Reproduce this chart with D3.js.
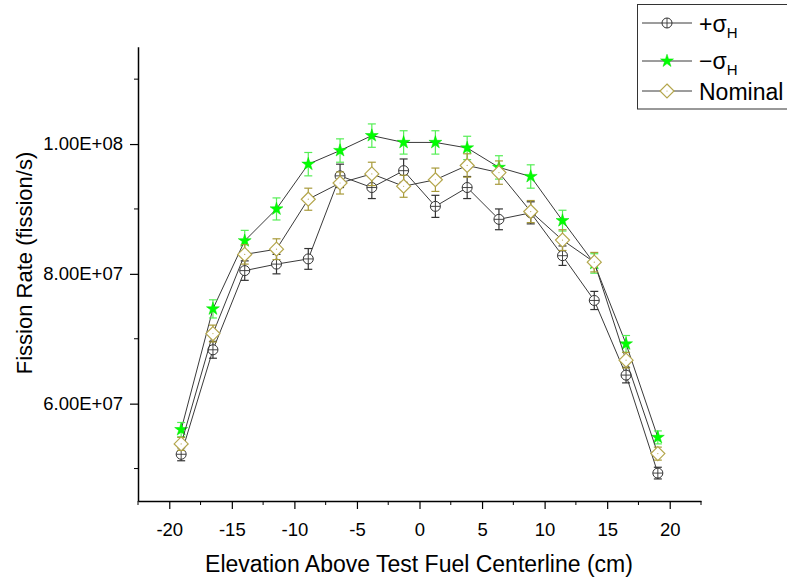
<!DOCTYPE html>
<html>
<head>
<meta charset="utf-8">
<script src="https://cdn.jsdelivr.net/npm/d3@7"></script>
<style>
  html, body { margin: 0; padding: 0; background: #fff; }
  svg { display: block; font-family: "Liberation Sans", Arial, sans-serif; }
</style>
</head>
<body>
<svg id="chart" width="787" height="579"></svg>
<script>
// Elevations of the measurement positions (cm)
const elevations = [-19.05, -16.51, -13.97, -11.43, -8.89, -6.35, -3.81, -1.27,
                    1.27, 3.81, 6.35, 8.89, 11.43, 13.97, 16.51, 19.05];

// Fission rates (fission/s) for each case
const plusSigma = [5.22e7, 6.83e7, 8.05e7, 8.15e7, 8.23e7, 9.51e7, 9.33e7, 9.59e7,
                   9.04e7, 9.33e7, 8.84e7, 8.94e7, 8.28e7, 7.59e7, 6.44e7, 4.93e7];
const minusSigma = [5.60e7, 7.46e7, 8.51e7, 9.00e7, 9.69e7, 9.90e7, 1.013e8, 1.0025e8,
                    1.0025e8, 9.94e7, 9.64e7, 9.50e7, 8.82e7, 8.16e7, 6.92e7, 5.48e7];
const nominal = [5.38e7, 7.08e7, 8.30e7, 8.38e7, 9.15e7, 9.40e7, 9.54e7, 9.35e7,
                 9.45e7, 9.67e7, 9.56e7, 8.96e7, 8.52e7, 8.18e7, 6.67e7, 5.23e7];

// One-sigma uncertainties (fission/s)
const plusSigmaErr = [1.0e6, 1.3e6, 1.5e6, 1.5e6, 1.6e6, 1.8e6, 1.7e6, 1.8e6,
                      1.7e6, 1.7e6, 1.6e6, 1.7e6, 1.5e6, 1.4e6, 1.2e6, 0.9e6];
const minusSigmaErr = [1.1e6, 1.4e6, 1.6e6, 1.7e6, 1.8e6, 1.8e6, 1.8e6, 1.8e6,
                       1.8e6, 1.8e6, 1.8e6, 1.8e6, 1.6e6, 1.5e6, 1.3e6, 1.0e6];
const nominalErr = [1.0e6, 1.3e6, 1.5e6, 1.6e6, 1.7e6, 1.7e6, 1.8e6, 1.7e6,
                    1.8e6, 1.8e6, 1.8e6, 1.7e6, 1.6e6, 1.5e6, 1.2e6, 1.0e6];

// Axis ticks
const xMajorTicks = [-20, -15, -10, -5, 0, 5, 10, 15, 20];
const xMinorTicks = [-22.5, -17.5, -12.5, -7.5, -2.5, 2.5, 7.5, 12.5, 17.5, 22.5];
const yMajorTicks = [6e7, 8e7, 1e8];
const yMinorTicks = [5e7, 7e7, 9e7, 1.1e8];

const svg = d3.select("#chart");

const x = d3.scaleLinear().domain([-22.5, 22.5]).range([138, 701]);
const y = d3.scaleLinear().domain([4.5e7, 1.15e8]).range([501, 46.7]);

const fmtSci = d => {
  const e = Math.floor(Math.log10(d) + 1e-9);
  const m = d / Math.pow(10, e);
  return m.toFixed(2) + "E+" + String(e).padStart(2, "0");
};

// Axes
const xAxis = svg.append("g").attr("transform", `translate(0,${y.range()[0]})`)
  .call(d3.axisBottom(x).tickValues(xMajorTicks).tickSize(8).tickPadding(14)
        .tickSizeOuter(0).tickFormat(d => String(d)));
xAxis.selectAll("text").attr("font-size", 18.5).attr("fill", "#000")
  .attr("font-family", '"Liberation Sans", Arial, sans-serif');
xAxis.append("g").selectAll("line").data(xMinorTicks).join("line")
  .attr("x1", d => x(d)).attr("x2", d => x(d)).attr("y1", 0).attr("y2", 4)
  .attr("stroke", "#000");

const yAxis = svg.append("g").attr("transform", `translate(${x.range()[0]},0)`)
  .call(d3.axisLeft(y).tickValues(yMajorTicks).tickSize(8).tickPadding(7)
        .tickSizeOuter(0).tickFormat(fmtSci));
yAxis.selectAll("text").attr("font-size", 18.5).attr("fill", "#000")
  .attr("font-family", '"Liberation Sans", Arial, sans-serif');
yAxis.append("g").selectAll("line").data(yMinorTicks).join("line")
  .attr("x1", -4).attr("x2", 0).attr("y1", d => y(d)).attr("y2", d => y(d))
  .attr("stroke", "#000");

[xAxis, yAxis].forEach(a => {
  a.select(".domain").attr("stroke", "#000").attr("stroke-width", 1.5);
  a.selectAll(".tick line").attr("stroke", "#000").attr("stroke-width", 1.2);
});

// Axis titles
svg.append("text")
  .attr("x", 419).attr("y", 572).attr("text-anchor", "middle")
  .attr("font-size", 23).attr("fill", "#000")
  .text("Elevation Above Test Fuel Centerline (cm)");
svg.append("text")
  .attr("transform", "translate(32,263) rotate(-90)")
  .attr("text-anchor", "middle")
  .attr("font-size", 22).attr("fill", "#000")
  .text("Fission Rate (fission/s)");

// Marker drawers
const starPath = d3.symbol().type(d3.symbolStar).size(52)();
function drawCircle(g, cx, cy) {
  g.append("circle").attr("cx", cx).attr("cy", cy).attr("r", 5)
    .attr("fill", "#fff").attr("stroke", "#333").attr("stroke-width", 1);
  g.append("line").attr("x1", cx - 5).attr("x2", cx + 5).attr("y1", cy).attr("y2", cy)
    .attr("stroke", "#333").attr("stroke-width", 0.9);
  g.append("line").attr("x1", cx).attr("x2", cx).attr("y1", cy - 5).attr("y2", cy + 5)
    .attr("stroke", "#333").attr("stroke-width", 0.9);
}
function drawStar(g, cx, cy) {
  g.append("path").attr("d", starPath).attr("transform", `translate(${cx},${cy})`)
    .attr("fill", "#00ff00").attr("stroke", "#00e000").attr("stroke-width", 0.5);
}
function drawDiamond(g, cx, cy) {
  const h = 7;
  g.append("path")
    .attr("d", `M${cx},${cy - h}L${cx + h},${cy}L${cx},${cy + h}L${cx - h},${cy}Z`)
    .attr("fill", "#fff").attr("stroke", "#b4a64c").attr("stroke-width", 1.2);
  g.append("circle").attr("cx", cx).attr("cy", cy).attr("r", 0.6).attr("fill", "#b4a64c");
}

const seriesList = [
  { name: "plus", values: plusSigma, errs: plusSigmaErr, errColor: "#333", marker: drawCircle },
  { name: "minus", values: minusSigma, errs: minusSigmaErr, errColor: "#55ee55", marker: drawStar },
  { name: "nominal", values: nominal, errs: nominalErr, errColor: "#a89a3a", marker: drawDiamond }
];

const line = d3.line().x(d => x(d[0])).y(d => y(d[1]));
const plot = svg.append("g");

seriesList.forEach(s => {
  const g = plot.append("g").attr("class", s.name);
  const pts = elevations.map((e, i) => [e, s.values[i], s.errs[i]]);
  g.append("path").datum(pts).attr("d", line)
    .attr("fill", "none").attr("stroke", "#3a3a3a").attr("stroke-width", 1);
  // error bars
  pts.forEach(p => {
    const cx = x(p[0]);
    const y1 = y(p[1] + p[2]), y2 = y(p[1] - p[2]);
    g.append("line").attr("x1", cx).attr("x2", cx).attr("y1", y1).attr("y2", y2)
      .attr("stroke", s.errColor).attr("stroke-width", 1.2);
    [y1, y2].forEach(yy => g.append("line")
      .attr("x1", cx - 4).attr("x2", cx + 4).attr("y1", yy).attr("y2", yy)
      .attr("stroke", s.errColor).attr("stroke-width", 1.2));
  });
  pts.forEach(p => s.marker(g, x(p[0]), y(p[1])));
});

// Legend
const legend = svg.append("g");
legend.append("rect").attr("x", 637.5).attr("y", 4.5).attr("width", 160).attr("height", 104.5)
  .attr("fill", "#fff").attr("stroke", "#333").attr("stroke-width", 1);
const legendRows = [
  { ly: 23, ty: 32, main: "+σ", sub: "H", marker: drawCircle },
  { ly: 61, ty: 69, main: "−σ", sub: "H", marker: drawStar },
  { ly: 91, ty: 100, main: "Nominal", sub: null, marker: drawDiamond }
];
legendRows.forEach(r => {
  legend.append("line").attr("x1", 642).attr("x2", 692).attr("y1", r.ly).attr("y2", r.ly)
    .attr("stroke", "#3a3a3a").attr("stroke-width", 1);
  r.marker(legend, 667, r.ly);
  const t = legend.append("text").attr("x", 699).attr("y", r.ty)
    .attr("font-size", 23).attr("fill", "#000").text(r.main);
  if (r.sub) t.append("tspan").attr("dy", 6).attr("font-size", 15).text(r.sub);
});
</script>
</body>
</html>
